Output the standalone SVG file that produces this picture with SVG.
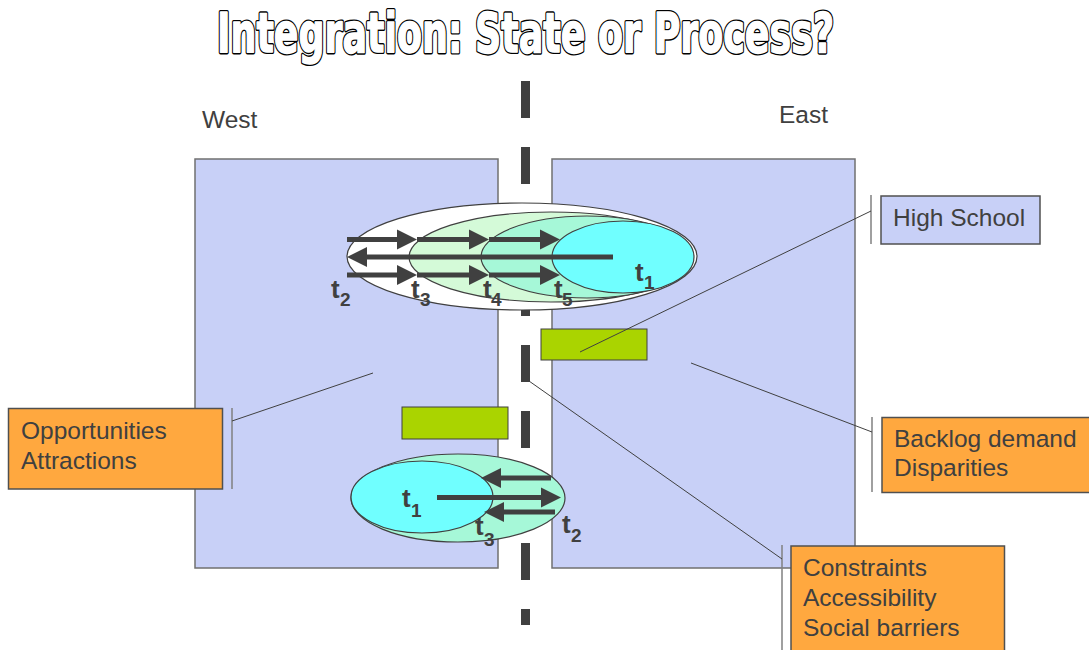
<svg xmlns="http://www.w3.org/2000/svg" width="1089" height="650" viewBox="0 0 1089 650">
  <style>
    .region { fill: #c8d0f7; stroke: #707070; stroke-width: 1.5; }
    .note { fill: #ffa83f; stroke: #505050; stroke-width: 1.5; }
    .note-blue { fill: #c8d0f7; stroke: #505050; stroke-width: 1.5; }
    .bar { fill: #aad400; stroke: #404040; stroke-width: 1; }
    .lbl { font-family: "Liberation Sans", Arial, sans-serif; font-size: 24.5px; fill: #404040; }
    .tl { font-family: "Liberation Sans", Arial, sans-serif; font-weight: bold; font-size: 26px; fill: #404040; }
    .ts { font-size: 19px; }
    .link { stroke: #404040; stroke-width: 1; fill: none; }
    .bracket { stroke: #808080; stroke-width: 1.5; fill: none; }
    .arrow { stroke: #404040; stroke-width: 5; fill: none; marker-end: url(#head); }
    .ell { stroke: #404040; stroke-width: 1.2; }
    .title { font-family: "DejaVu Sans Condensed", "DejaVu Sans", sans-serif; font-stretch: condensed; font-weight: bold; font-size: 55px; stroke-linejoin: round; }
    .title-edge { fill: #000000; stroke: #000000; stroke-width: 4.2; }
    .title-face { fill: #ffffff; stroke: #ffffff; stroke-width: 1.4; }
  </style>
  <defs>
    <marker id="head" markerUnits="userSpaceOnUse" markerWidth="20" markerHeight="20" refX="0" refY="10" orient="auto" overflow="visible">
      <path d="M0,0 L20,10 L0,20 Z" fill="#404040"/>
    </marker>
  </defs>

  <!-- heading: heavy outlined lettering built from a dark edge layer and a white face layer -->
  <g id="heading">
    <text class="title title-edge" x="217" y="52" textLength="617" lengthAdjust="spacingAndGlyphs">Integration: State or Process?</text>
    <text class="title title-face" x="217" y="52" textLength="617" lengthAdjust="spacingAndGlyphs">Integration: State or Process?</text>
  </g>

  <!-- the two areas -->
  <g id="west">
    <rect class="region" x="195" y="159" width="303" height="409"/>
    <text class="lbl" x="202" y="128">West</text>
  </g>
  <g id="east">
    <rect class="region" x="552" y="159" width="303" height="409"/>
    <text class="lbl" x="779" y="123">East</text>
  </g>

  <!-- border between the areas -->
  <g id="border">
    <line x1="525.5" y1="81" x2="525.5" y2="625" stroke="#404040" stroke-width="9" stroke-dasharray="37 29"/>
  </g>

  <!-- school bars -->
  <g id="school-east">
    <rect class="bar" x="541" y="329" width="106" height="31"/>
  </g>
  <g id="school-west">
    <rect class="bar" x="402" y="407" width="106" height="32"/>
  </g>

  <!-- upper process: expanding catchment over time -->
  <g id="process-upper">
    <ellipse class="ell" cx="522" cy="256.5" rx="175" ry="53.5" fill="#ffffff"/>
    <ellipse class="ell" cx="551" cy="257" rx="142" ry="45" fill="#d4fad8"/>
    <ellipse class="ell" cx="587" cy="257" rx="106" ry="41" fill="#a6f8d8"/>
    <ellipse class="ell" cx="623" cy="257" rx="71" ry="36" fill="#70ffff"/>
    <path class="arrow" d="M347,239.5 H397"/>
    <path class="arrow" d="M417,239.5 H469"/>
    <path class="arrow" d="M489,239.5 H540"/>
    <path class="arrow" d="M347,275 H397"/>
    <path class="arrow" d="M417,275 H469"/>
    <path class="arrow" d="M489,275 H540"/>
    <path class="arrow" d="M613,257 H367"/>
    <text class="tl" x="331" y="298">t<tspan class="ts" x="340" y="306">2</tspan></text>
    <text class="tl" x="411" y="298">t<tspan class="ts" x="420" y="306">3</tspan></text>
    <text class="tl" x="483" y="298">t<tspan class="ts" x="491" y="306">4</tspan></text>
    <text class="tl" x="554" y="298">t<tspan class="ts" x="562" y="306">5</tspan></text>
    <text class="tl" x="635" y="281">t<tspan class="ts" x="644" y="289">1</tspan></text>
  </g>

  <!-- lower process -->
  <g id="process-lower">
    <ellipse class="ell" cx="458" cy="498" rx="107" ry="44" fill="#a6f8d8"/>
    <ellipse class="ell" cx="422" cy="497" rx="71" ry="36" fill="#70ffff"/>
    <path class="arrow" d="M437,497.5 H541"/>
    <path class="arrow" d="M551,478 H501"/>
    <path class="arrow" d="M555,512 H504"/>
    <text class="tl" x="402" y="507">t<tspan class="ts" x="411" y="517">1</tspan></text>
    <text class="tl" x="475" y="535">t<tspan class="ts" x="484" y="546">3</tspan></text>
    <text class="tl" x="562" y="533">t<tspan class="ts" x="571" y="542">2</tspan></text>
  </g>

  <!-- callout boxes -->
  <g id="opportunities">
    <rect class="note" x="8.5" y="408.5" width="214" height="80.5"/>
    <text class="lbl" x="21" y="439">Opportunities</text>
    <text class="lbl" x="21" y="469">Attractions</text>
  </g>
  <g id="high-school">
    <rect class="note-blue" x="881" y="196" width="159" height="48"/>
    <text class="lbl" x="893" y="226">High School</text>
  </g>
  <g id="backlog">
    <rect class="note" x="882" y="417.5" width="210" height="75"/>
    <text class="lbl" x="894" y="447">Backlog demand</text>
    <text class="lbl" x="894" y="476">Disparities</text>
  </g>
  <g id="constraints">
    <rect class="note" x="791" y="546" width="213.5" height="110"/>
    <text class="lbl" x="803" y="576">Constraints</text>
    <text class="lbl" x="803" y="606">Accessibility</text>
    <text class="lbl" x="803" y="636">Social barriers</text>
  </g>

  <!-- callout leaders -->
  <g id="connectors">
    <path class="bracket" d="M232,408 V489"/>
    <path class="link" d="M232,421 L373,373"/>
    <path class="bracket" d="M871,195 V244"/>
    <path class="link" d="M871,211 L580,352"/>
    <path class="bracket" d="M872,417 V492"/>
    <path class="link" d="M872,432 L691,363"/>
    <path class="bracket" d="M782,545 V650"/>
    <path class="link" d="M782,559 L529,381"/>
  </g>
</svg>
